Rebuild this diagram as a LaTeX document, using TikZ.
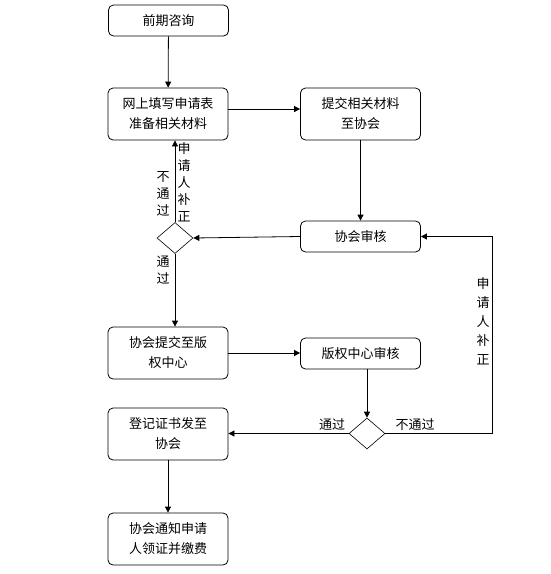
\documentclass[tikz,border=0pt]{standalone}
\usepackage{fontspec}
\setmainfont{Noto Sans CJK SC}
\usetikzlibrary{shapes.geometric,arrows.meta,calc}
\begin{document}
\begin{tikzpicture}[x=1pt,y=-1pt,
  box/.style={draw,rounded corners=5pt,line width=0.8pt,align=center,font=\fontsize{13}{20}\selectfont,inner sep=0pt},
  wbox/.style={box,minimum width=120pt,minimum height=52pt},
  sbox/.style={box,minimum width=120pt,minimum height=31pt},
  dia/.style={draw,diamond,line width=0.6pt,minimum width=36pt,minimum height=31pt,inner sep=0pt},
  arr/.style={line width=0.8pt,-{Triangle[length=6pt,width=6pt]}},
  ln/.style={line width=0.8pt},
  lab/.style={font=\fontsize{13}{17}\selectfont,align=center,inner sep=0pt}]
\useasboundingbox[fill=white] (0,0) rectangle (551,574);
\node[sbox] (q) at (168.5,20.5) {前期咨询};
\node[wbox] (w) at (168,114) {网上填写申请表\\准备相关材料};
\node[wbox] (s) at (360.5,114) {提交相关材料\\至协会};
\node[sbox] (a) at (360.5,236.5) {协会审核};
\node[dia] (d1) at (175,238) {};
\node[wbox] (c) at (168,353) {协会提交至版\\权中心};
\node[sbox] (b) at (360.5,353.5) {版权中心审核};
\node[dia] (d2) at (367,433.5) {};
\node[wbox] (r) at (168,434) {登记证书发至\\协会};
\node[wbox] (n) at (168,539) {协会通知申请\\人领证并缴费};
\coordinate (k) at (492,433.5);
\draw[arr] (q) -- (w);
\draw[arr] ([yshift=5pt]w.east) -- ([yshift=5pt]w.east -| s.west);
\draw[arr] (s) -- (a);
\draw[arr] (a.west) -- (d1.east);
\draw[arr] (d1.north) -- (d1.north |- w.south);
\draw[arr] (d1.south) -- (d1.south |- c.north);
\draw[arr] (c.east) -- (c.east -| b.west);
\draw[arr] (d2.north |- b.south) -- (d2.north);
\draw[arr] (d2.west) -- (d2.west -| r.east);
\draw[arr] (d2.east) -- (k) -- (k |- a.east) -- (a.east);
\draw[arr] (r) -- (n);
\node[lab] (l1) at (163,194) {不\\通\\过};
\node[lab] (l2) at (184,182) {申\\请\\人\\补\\正};
\node[lab] (l3) at (163,270) {通\\过};
\node[lab,anchor=south] (l4) at (332,431) {通过};
\node[lab,anchor=south] (l5) at (415,431) {不通过};
\node[lab,font=\fontsize{13}{19}\selectfont] (l6) at (483,321) {申\\请\\人\\补\\正};
\end{tikzpicture}
\end{document}
